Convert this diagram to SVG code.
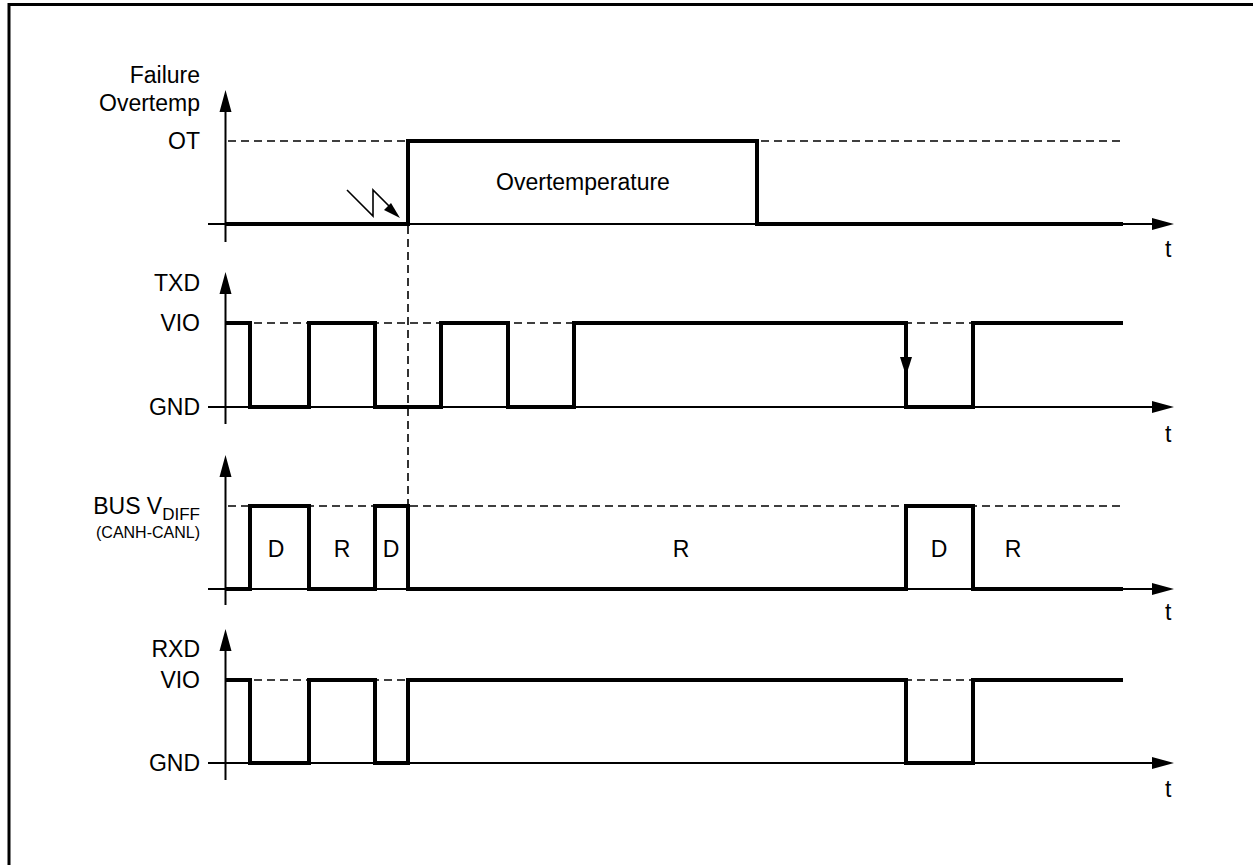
<svg xmlns="http://www.w3.org/2000/svg" width="1253" height="865" viewBox="0 0 1253 865">
<style>
text{font-family:"Liberation Sans",Arial,sans-serif;font-size:23px;fill:#000}
.lbl{text-anchor:end}
.mid{text-anchor:middle}
.axis{stroke:#000;stroke-width:2;fill:none}
.sig{stroke:#000;stroke-width:4;fill:none;stroke-linejoin:miter;stroke-linecap:square}
.dash{stroke:#000;stroke-width:1.6;fill:none;stroke-dasharray:8 5}
.ah{fill:#000}
</style>
<rect width="1253" height="865" fill="#fff"/>
<path d="M9,865 V4.5 H1253" fill="none" stroke="#000" stroke-width="3"/>

<g id="labels">
<text class="lbl" x="200" y="83">Failure</text>
<text class="lbl" x="200" y="111">Overtemp</text>
<text class="lbl" x="200" y="149">OT</text>
<text class="lbl" x="200" y="291">TXD</text>
<text class="lbl" x="200" y="331">VIO</text>
<text class="lbl" x="200" y="415">GND</text>
<text class="lbl" x="200" y="514">BUS V<tspan font-size="17" dy="6">DIFF</tspan></text>
<text class="lbl" x="200" y="538" style="font-size:16px">(CANH-CANL)</text>
<text class="lbl" x="200" y="657">RXD</text>
<text class="lbl" x="200" y="688">VIO</text>
<text class="lbl" x="200" y="771">GND</text>
<text x="1165" y="257">t</text>
<text x="1165" y="442">t</text>
<text x="1165" y="620">t</text>
<text x="1165" y="797">t</text>
</g>

<g id="dashes">
<path class="dash" d="M228,141 H1120 M228,323 H1120 M228,506 H1120 M228,680 H1120 M408,226 V506"/>
</g>

<g id="axes">
<path class="axis" d="M225.5,100 V242 M208,224 H1160"/>
<path class="ah" d="M225.5,90 L219.5,112 L231.5,112 Z M1174,224 L1152,218 L1152,230 Z"/>
<path class="axis" d="M225.5,282 V424 M208,407 H1160"/>
<path class="ah" d="M225.5,272 L219.5,294 L231.5,294 Z M1174,407 L1152,401 L1152,413 Z"/>
<path class="axis" d="M225.5,465 V605 M208,589 H1160"/>
<path class="ah" d="M225.5,455 L219.5,477 L231.5,477 Z M1174,589 L1152,583 L1152,595 Z"/>
<path class="axis" d="M225.5,639 V780 M208,763 H1160"/>
<path class="ah" d="M225.5,629 L219.5,651 L231.5,651 Z M1174,763 L1152,757 L1152,769 Z"/>
</g>

<g id="failure-signal">
<path class="sig" d="M227,224 H408 V141 H757 V224 H1121"/>
<text class="mid" x="583" y="190">Overtemperature</text>
<path d="M347,190 L373,216 V190 L394,211" fill="none" stroke="#000" stroke-width="1.6"/>
<path class="ah" d="M400,218 L384,210 L391,203 Z"/>
</g>

<g id="txd-signal">
<path class="sig" d="M227,323 H250 V407 H309 V323 H375 V407 H441 V323 H508 V407 H574 V323 H906 V407 H973 V323 H1121"/>
<path class="ah" d="M906,376 L900,357 L912,357 Z"/>
</g>

<g id="bus-signal">
<path class="sig" d="M227,589 H250 V506 H309 V589 H375 V506 H408 V589 H906 V506 H973 V589 H1121"/>
<text class="mid" x="276" y="557">D</text>
<text class="mid" x="342" y="557">R</text>
<text class="mid" x="391" y="557">D</text>
<text class="mid" x="681" y="557">R</text>
<text class="mid" x="939" y="557">D</text>
<text class="mid" x="1013" y="557">R</text>
</g>

<g id="rxd-signal">
<path class="sig" d="M227,680 H250 V763 H309 V680 H375 V763 H408 V680 H906 V763 H973 V680 H1121"/>
</g>
</svg>
